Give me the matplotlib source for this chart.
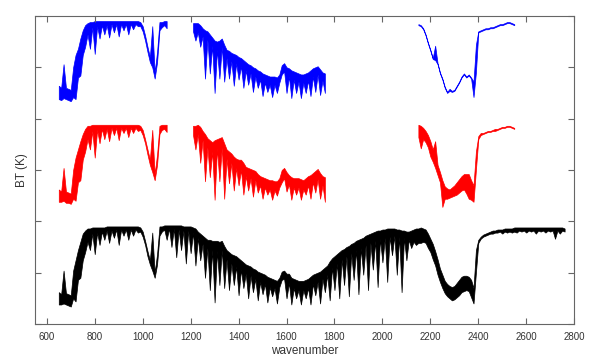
import numpy as np
import matplotlib
matplotlib.use('Agg')
import matplotlib.pyplot as plt

plt.rcParams['font.family'] = ['Liberation Sans', 'DejaVu Sans']

# sampling of the spectra (cm-1); each sample has the upper and lower
# edge of the noisy trace in that 10 cm-1 slot, BT in K
step = 10

# black spectrum, 650-2760 cm-1
black_start = 650
black_hi = [231, 229, 252, 230, 229, 228, 252, 262, 272, 280,
            288, 291, 293, 293, 294, 294, 294, 294, 294, 294,
            295, 295, 295, 295, 295, 295, 295, 295, 295, 295,
            295, 295, 295, 295, 294, 290, 281, 271, 262, 289,
            250, 268, 295, 295, 296, 296, 296, 296, 296, 296,
            296, 296, 295, 295, 295, 295, 294, 293, 290, 288,
            286, 284, 282, 282, 281, 281, 281, 280, 281, 276,
            272, 270, 268, 267, 266, 264, 262, 260, 258, 257,
            256, 254, 253, 251, 250, 249, 248, 246, 245, 244,
            243, 242, 245, 251, 252, 249, 249, 245, 244, 243,
            242, 242, 242, 243, 244, 246, 248, 249, 250, 251,
            253, 255, 257, 261, 264, 266, 268, 270, 272, 273,
            275, 276, 278, 279, 281, 282, 283, 284, 286, 287,
            288, 289, 290, 291, 291, 292, 292, 293, 293, 293,
            293, 292, 292, 291, 291, 290, 290, 291, 292, 293,
            293, 294, 293, 292, 288, 283, 278, 271, 263, 254,
            248, 242, 239, 237, 236, 237, 240, 243, 246, 247,
            247, 246, 243, 235, 272, 282, 285, 287, 288, 289,
            290, 291, 291, 292, 292, 292, 293, 293, 293, 293,
            294, 294, 294, 294, 294, 294, 294, 294, 294, 294,
            294, 294, 294, 294, 294, 294, 294, 294, 294, 294,
            294, 293]
black_lo = [219, 219, 220, 219, 218, 217, 225, 222, 243, 245,
            262, 270, 280, 272, 288, 268, 289, 277, 290, 282,
            291, 279, 291, 284, 292, 277, 292, 286, 292, 282,
            292, 286, 292, 289, 290, 285, 277, 266, 258, 252,
            245, 258, 286, 290, 292, 282, 293, 275, 293, 265,
            292, 272, 291, 259, 291, 269, 289, 257, 284, 262,
            278, 245, 274, 233, 272, 221, 271, 238, 272, 235,
            263, 233, 259, 238, 256, 228, 253, 235, 249, 225,
            247, 231, 244, 223, 241, 229, 239, 221, 236, 227,
            235, 220, 236, 243, 244, 225, 240, 219, 235, 225,
            233, 219, 233, 225, 235, 219, 239, 228, 241, 220,
            244, 231, 248, 223, 255, 233, 259, 225, 263, 238,
            266, 227, 269, 243, 272, 229, 274, 248, 277, 233,
            279, 253, 281, 236, 283, 260, 284, 241, 285, 267,
            286, 248, 285, 231, 284, 262, 282, 274, 280, 277,
            279, 279, 280, 279, 274, 270, 263, 257, 248, 241,
            235, 230, 227, 225, 223, 224, 226, 228, 231, 232,
            233, 232, 226, 220, 250, 279, 283, 285, 286, 287,
            288, 288, 289, 289, 290, 288, 290, 289, 290, 289,
            290, 289, 291, 290, 291, 289, 291, 290, 291, 288,
            291, 290, 291, 289, 291, 290, 291, 283, 291, 288,
            291, 290]

# red and blue spectra only exist in three bands
band_starts = [650, 1210, 2150]

red_lw_hi = [231, 229, 252, 229, 228, 227, 250, 262, 270, 278,
             285, 290, 293, 293, 294, 294, 294, 294, 294, 294,
             294, 294, 294, 294, 294, 294, 294, 294, 294, 294,
             294, 294, 294, 294, 293, 289, 280, 270, 260, 289,
             246, 265, 293, 294, 294, 294]
red_lw_lo = [219, 219, 220, 218, 218, 217, 222, 220, 238, 240,
             260, 268, 280, 270, 288, 262, 289, 276, 290, 280,
             290, 278, 291, 284, 291, 279, 291, 286, 291, 282,
             291, 286, 291, 288, 289, 284, 276, 265, 255, 248,
             240, 255, 285, 289, 290, 287]
red_mw_hi = [293, 293, 294, 292, 288, 285, 281, 279, 277, 279,
             280, 281, 282, 276, 270, 268, 266, 263, 261, 260,
             260, 257, 253, 252, 251, 250, 249, 246, 244, 243,
             242, 241, 240, 240, 239, 239, 242, 250, 252, 248,
             245, 243, 242, 242, 242, 241, 240, 242, 244, 245,
             247, 249, 251, 247, 244, 243]
red_mw_lo = [284, 270, 285, 257, 279, 239, 272, 243, 268, 221,
             271, 239, 272, 222, 261, 237, 257, 230, 252, 235,
             250, 226, 244, 230, 242, 224, 240, 228, 235, 222,
             233, 226, 231, 221, 230, 225, 233, 238, 242, 229,
             236, 221, 233, 226, 233, 221, 231, 226, 235, 222,
             238, 228, 241, 222, 235, 219]
red_sw_hi = [294, 293, 291, 288, 284, 278, 270, 278, 255, 248,
             240, 234, 232, 231, 233, 235, 238, 241, 244, 246,
             246, 246, 240, 235, 268, 283, 286, 286, 287, 288,
             288, 289, 290, 290, 291, 292, 292, 293, 293, 292,
             291]
red_sw_lo = [282, 271, 280, 277, 272, 263, 258, 252, 245, 238,
             214, 222, 222, 223, 224, 225, 226, 228, 230, 231,
             227, 222, 221, 219, 250, 280, 284, 285, 286, 287,
             287, 288, 288, 289, 290, 291, 291, 292, 292, 291,
             290]

blue_lw_hi = [232, 230, 253, 230, 229, 228, 250, 262, 268, 278,
              286, 291, 293, 294, 294, 295, 295, 295, 295, 295,
              295, 295, 295, 295, 295, 295, 295, 295, 295, 295,
              295, 295, 295, 295, 294, 290, 281, 270, 260, 290,
              245, 265, 294, 294, 295, 295]
blue_lw_lo = [219, 218, 220, 219, 218, 217, 221, 219, 240, 242,
              262, 270, 282, 268, 289, 263, 290, 278, 291, 282,
              291, 279, 292, 284, 292, 280, 292, 286, 292, 282,
              292, 287, 292, 290, 290, 285, 276, 265, 255, 250,
              239, 255, 286, 289, 291, 288]
blue_mw_hi = [293, 293, 293, 291, 288, 286, 285, 282, 279, 276,
              275, 276, 278, 272, 267, 266, 264, 263, 262, 260,
              259, 257, 255, 253, 252, 250, 249, 247, 246, 244,
              243, 242, 241, 241, 241, 240, 243, 252, 254, 250,
              249, 247, 246, 245, 244, 243, 243, 244, 245, 247,
              249, 250, 251, 248, 245, 244]
blue_mw_lo = [285, 276, 284, 270, 280, 239, 277, 244, 271, 225,
              267, 239, 270, 236, 259, 239, 256, 232, 254, 238,
              251, 230, 247, 233, 244, 226, 241, 230, 238, 222,
              235, 226, 233, 221, 233, 225, 235, 243, 246, 225,
              241, 220, 238, 225, 236, 220, 235, 225, 237, 222,
              241, 226, 243, 223, 237, 225]
blue_sw_hi = [292, 291, 288, 282, 274, 267, 259, 271, 254, 245,
              239, 231, 226, 229, 227, 228, 232, 236, 241, 244,
              241, 243, 240, 236, 272, 285, 286, 287, 288, 288,
              289, 289, 290, 291, 292, 292, 293, 294, 294, 293,
              292]
blue_sw_lo = [291, 290, 287, 281, 273, 266, 258, 257, 253, 244,
              238, 230, 225, 227, 226, 227, 231, 235, 240, 243,
              240, 242, 239, 221, 245, 284, 285, 286, 287, 287,
              288, 288, 289, 290, 291, 291, 292, 293, 293, 292,
              291]

# vertical shift between the curves (K)
offset_black = 0
offset_red = 100
offset_blue = 200

fig, ax = plt.subplots(figsize=(6, 3.62), dpi=100)
fig.subplots_adjust(left=0.058, right=0.957, top=0.956, bottom=0.105)


def draw(start, hi, lo, color, offset):
    wn = start + step * np.arange(len(hi))
    ax.fill_between(wn, np.array(lo) + offset, np.array(hi) + offset,
                    facecolor=color, edgecolor=color, lw=0.5)


draw(black_start, black_hi, black_lo, 'black', offset_black)
for s, hi, lo in zip(band_starts, [red_lw_hi, red_mw_hi, red_sw_hi],
                     [red_lw_lo, red_mw_lo, red_sw_lo]):
    draw(s, hi, lo, 'red', offset_red)
for s, hi, lo in zip(band_starts, [blue_lw_hi, blue_mw_hi, blue_sw_hi],
                     [blue_lw_lo, blue_mw_lo, blue_sw_lo]):
    draw(s, hi, lo, 'blue', offset_blue)

ax.set_xlim(550, 2800)
ax.set_ylim(200, 500)
ax.set_xticks(np.arange(600, 2801, 200))
ax.set_yticks(np.arange(200, 501, 50))
ax.set_yticklabels([])
ax.tick_params(direction='in', top=True, right=True, length=4, pad=6,
               labelsize=7, labelcolor='#333333', color='#666666')
for sp in ax.spines.values():
    sp.set_color('#666666')

ax.set_xlabel('wavenumber', fontsize=8.5, color='#333333', labelpad=2)
ax.set_ylabel('BT (K)', fontsize=8.5, color='#333333', labelpad=-1)

plt.savefig('out.png', dpi=100)
